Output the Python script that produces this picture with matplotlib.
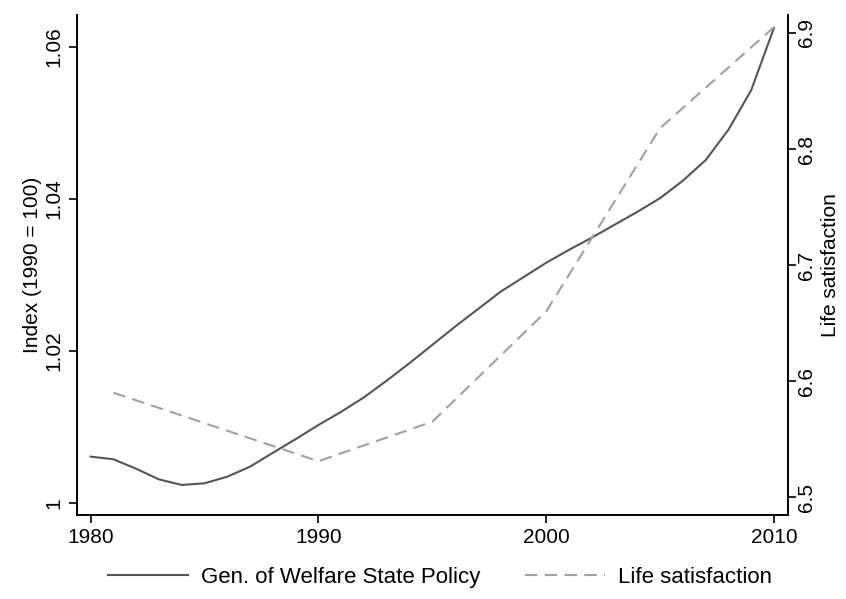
import numpy as np
import matplotlib.pyplot as plt

plt.rcParams['font.family'] = ['Liberation Sans', 'DejaVu Sans']

years = list(range(1980, 2011))
welfare = [1.0061, 1.00575, 1.0045, 1.0031, 1.00237, 1.00259, 1.00346, 1.00478,
           1.0066, 1.0084, 1.01026, 1.0120, 1.0139, 1.0161, 1.0184, 1.0208,
           1.0232, 1.0255, 1.0278, 1.0297, 1.0316, 1.0333, 1.0349, 1.0366,
           1.0383, 1.0401, 1.0424, 1.0451, 1.0491, 1.0543, 1.0625]

ls_years = [1981, 1990, 1995, 2000, 2005, 2010]
life_sat = [6.590, 6.531, 6.565, 6.660, 6.818, 6.905]

fig = plt.figure(figsize=(8.46, 5.99), dpi=100)
ax = fig.add_axes([0.091, 0.140, 0.840, 0.835])
ax2 = ax.twinx()

l1, = ax.plot(years, welfare, color='#555555', lw=1.5)
l2, = ax2.plot(ls_years, life_sat, color='#a0a0a0', lw=1.5, dashes=(6, 3.5))

ax.set_xlim(1979.4, 2010.6)
ax.set_ylim(0.9984, 1.0642)
ax2.set_ylim(6.4845, 6.9155)

ax.set_xticks([1980, 1990, 2000, 2010])
ax.set_yticks([1, 1.02, 1.04, 1.06])
ax.set_yticklabels(['1', '1.02', '1.04', '1.06'], rotation=90, va='center')
ax2.set_yticks([6.5, 6.6, 6.7, 6.8, 6.9])
ax2.set_yticklabels(['6.5', '6.6', '6.7', '6.8', '6.9'], rotation=90, va='center')

for a in (ax, ax2):
    a.spines['top'].set_visible(False)
    for s in a.spines.values():
        s.set_linewidth(1.2)
    a.tick_params(labelsize=15, length=6, width=1.2, direction='out')
ax2.tick_params(pad=1)

ax.set_ylabel('Index (1990 = 100)', fontsize=15, labelpad=2)
ax2.set_ylabel('Life satisfaction', fontsize=15, labelpad=3)

fig.legend([l1, l2], ['Gen. of Welfare State Policy', 'Life satisfaction'],
           loc='lower center', bbox_to_anchor=(0.52, -0.015), ncol=2, frameon=False,
           fontsize=16, handlelength=3.6, handletextpad=0.6, columnspacing=2.0)

fig.savefig('out.png', dpi=100)
